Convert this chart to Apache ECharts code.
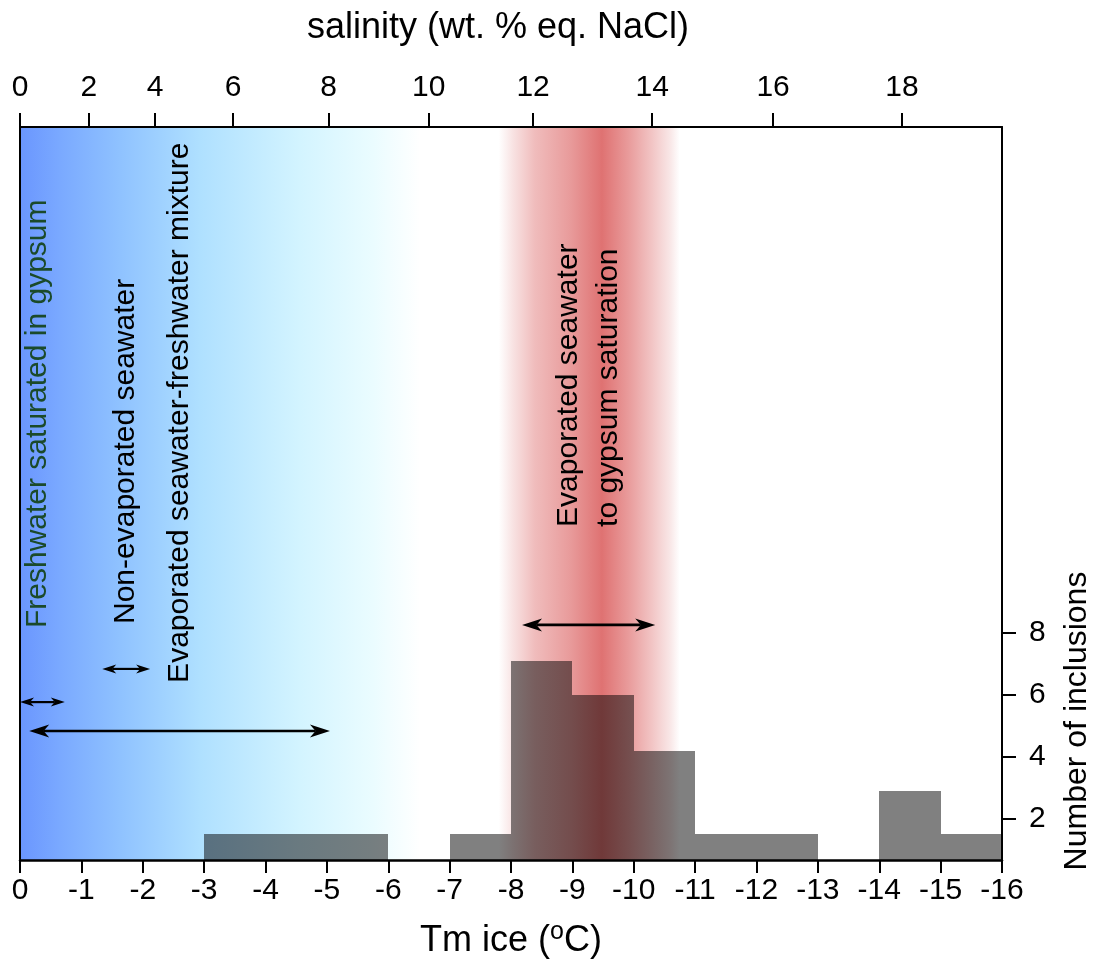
<!DOCTYPE html>
<html>
<head>
<meta charset="utf-8">
<script src="https://cdn.jsdelivr.net/npm/echarts@6/dist/echarts.min.js"></script>
<style>
  html, body { margin: 0; padding: 0; background: #ffffff; }
  #chart { width: 1099px; height: 965px; }
</style>
</head>
<body>
<div id="chart"></div>
<script>
// Fluid inclusions in gypsum: histogram of final ice-melting temperature (Tm ice)
// with the equivalent salinity scale along the top.

// Histogram bins (°C) and number of inclusions per bin
const binFrom = [-3, -4, -5, -7, -8, -9, -10, -11, -12, -14, -15];
const binTo   = [-4, -5, -6, -8, -9, -10, -11, -12, -13, -15, -16];
const inclusionCounts = [1.5, 1.5, 1.5, 1.5, 7.1, 6.0, 4.2, 1.5, 1.5, 2.9, 1.5];

// Salinity scale (wt. % eq. NaCl) and the Tm ice each label sits at
const salinityLabels = ['0', '2', '4', '6', '8', '10', '12', '14', '16', '18'];
const salinityAtTm   = [0, -1.12, -2.2, -3.47, -5.03, -6.66, -8.36, -10.3, -12.27, -14.37];

// Right-hand count axis
const countTicks = [2, 4, 6, 8];

// Fluid-type ranges of Tm ice (°C)
const rangeNames = [
  'Freshwater saturated in gypsum',
  'Non-evaporated seawater',
  'Evaporated seawater-freshwater mixture',
  'Evaporated seawater\nto gypsum saturation'
];
const rangeFrom = [0, -1.34, -0.15, -8.18];
const rangeTo   = [-0.73, -2.12, -5.05, -10.35];

// Shaded fields: freshwater-seawater field and gypsum-saturation band
const freshField = [0, -6.52];
const gypsumBand = [-7.8, -10.75];

// ---- styling and layout ----
const FONT = "'Liberation Sans', Arial, Helvetica, sans-serif";
const TM_LEFT = 0, TM_RIGHT = -16;
const Y_MIN = 0.677, Y_MAX = 24.32;
const arrowLevel = [5.77, 6.84, 4.84, 8.26];
const labelAnchor = [[-0.29, 8.16], [-1.73, 8.29], [-2.6, 6.39], [-9.27, 11.42]];
const labelColor = ['#1b4a2a', '#000000', '#000000', '#000000'];

const freshShade = [
  [0, '#6a96fe'], [0.1, '#7aa9ff'], [0.25, '#8fc2ff'], [0.45, '#afe0ff'],
  [0.7, '#d3f4ff'], [0.88, '#eafcff'], [1, '#ffffff']
];
const gypsumShade = [
  [0, '#ffffff'], [0.08, '#f8e2e2'], [0.2, '#f0bcbc'], [0.4, '#e89a9a'], [0.57, '#df7272'],
  [0.72, '#e99c9c'], [0.85, '#f2c6c6'], [0.95, '#f9e8e8'], [1, '#ffffff']
];
const BAR_GREY = 128;

function gradientOf(stops) {
  return new echarts.graphic.LinearGradient(0, 0, 1, 0,
    stops.map(s => ({ offset: s[0], color: s[1] })));
}

// grey bars look as if multiplied onto the shading beneath them
function multiplied(hex) {
  const n = parseInt(hex.slice(1), 16);
  const k = BAR_GREY / 255;
  const r = Math.round(((n >> 16) & 255) * k);
  const g = Math.round(((n >> 8) & 255) * k);
  const b = Math.round((n & 255) * k);
  return 'rgb(' + r + ',' + g + ',' + b + ')';
}
function fieldStops(field, shade) {
  return shade.map(s => {
    const tm = field[0] + s[0] * (field[1] - field[0]);
    return { offset: (tm - TM_LEFT) / (TM_RIGHT - TM_LEFT), color: multiplied(s[1]) };
  });
}
const barStops = fieldStops(freshField, freshShade)
  .concat(fieldStops(gypsumBand, gypsumShade))
  .concat([{ offset: 1, color: multiplied('#ffffff') }]);

const chart = echarts.init(document.getElementById('chart'), null, { renderer: 'canvas' });

const barData = binFrom.map((f, i) => [f, binTo[i], inclusionCounts[i]]);
const arrowData = rangeFrom.map((f, i) => [f, rangeTo[i], arrowLevel[i]]);
const labelData = rangeNames.map((n, i) => ({
  value: [labelAnchor[i][0], labelAnchor[i][1]],
  name: n,
  label: { color: labelColor[i] }
}));

function head(tip, dir, L, W) {
  const nx = -dir[1], ny = dir[0];
  const bx = tip[0] - dir[0] * L, by = tip[1] - dir[1] * L;
  const notch = [tip[0] - dir[0] * L * 0.72, tip[1] - dir[1] * L * 0.72];
  return {
    shape: { points: [tip, [bx + nx * W / 2, by + ny * W / 2], notch, [bx - nx * W / 2, by - ny * W / 2]] },
    notch: notch
  };
}

const axisLineStyle = { color: '#000', width: 2 };
let barFill = null;

chart.setOption({
  animation: false,
  backgroundColor: '#ffffff',
  grid: { left: 20, right: 97, top: 127, bottom: 105, containLabel: false },
  xAxis: [
    {
      type: 'value', position: 'bottom', min: TM_RIGHT, max: TM_LEFT, inverse: true, interval: 1, z: 10,
      axisLine: { show: true, onZero: false, lineStyle: { color: '#000', width: 2.5 } },
      axisTick: { show: true, length: 13, lineStyle: { color: '#000', width: 2 } },
      axisLabel: { show: true, margin: 16, fontFamily: FONT, fontSize: 30, color: '#000',
                   showMinLabel: true, showMaxLabel: true },
      splitLine: { show: false },
      name: '{t|Tm ice (}{s|o}{t|C)}',
      nameLocation: 'middle', nameGap: 60,
      nameTextStyle: {
        rich: {
          t: { fontFamily: FONT, fontSize: 36, lineHeight: 42, color: '#000' },
          s: { fontFamily: FONT, fontSize: 25, lineHeight: 25, color: '#000', verticalAlign: 'top' }
        }
      }
    },
    {
      type: 'value', position: 'top', min: TM_RIGHT, max: TM_LEFT, inverse: true, z: 10,
      axisLine: { show: true, onZero: false, lineStyle: axisLineStyle },
      axisTick: { show: true, length: 14, customValues: salinityAtTm, lineStyle: { color: '#000', width: 2 } },
      axisLabel: {
        show: true, margin: 24, fontFamily: FONT, fontSize: 30, color: '#000',
        customValues: salinityAtTm,
        formatter: (v) => {
          const i = salinityAtTm.findIndex(t => Math.abs(t - v) < 1e-6);
          return i >= 0 ? salinityLabels[i] : '';
        }
      },
      splitLine: { show: false }
    }
  ],
  yAxis: [
    {
      type: 'value', position: 'right', min: Y_MIN, max: Y_MAX, z: 10,
      axisLine: { show: true, onZero: false, lineStyle: axisLineStyle },
      axisTick: { show: true, length: 14, customValues: countTicks, lineStyle: { color: '#000', width: 2 } },
      axisLabel: { show: true, margin: 27, fontFamily: FONT, fontSize: 30, color: '#000', customValues: countTicks },
      splitLine: { show: false }
    },
    {
      type: 'value', position: 'left', min: Y_MIN, max: Y_MAX, z: 10,
      axisLine: { show: true, onZero: false, lineStyle: axisLineStyle },
      axisTick: { show: false }, axisLabel: { show: false }, splitLine: { show: false }
    }
  ],
  graphic: [
    {
      type: 'text', x: 498, y: 28, silent: true,
      style: { text: 'salinity (wt. % eq. NaCl)', font: '36px ' + FONT, fill: '#000',
               align: 'center', verticalAlign: 'middle', textAlign: 'center', textVerticalAlign: 'middle' }
    },
    {
      type: 'text', x: 1077, y: 721, rotation: Math.PI / 2, silent: true,
      style: { text: 'Number of inclusions', font: '32px ' + FONT, fill: '#000',
               align: 'center', verticalAlign: 'middle', textAlign: 'center', textVerticalAlign: 'middle' }
    }
  ],
  series: [
    {
      // shaded compositional fields behind the histogram
      type: 'line', data: [], silent: true, xAxisIndex: 0, yAxisIndex: 0, z: 1,
      markArea: {
        silent: true, z: 1,
        data: [
          [
            { xAxis: freshField[0], yAxis: Y_MIN, itemStyle: { color: gradientOf(freshShade) } },
            { xAxis: freshField[1], yAxis: Y_MAX }
          ],
          [
            { xAxis: gypsumBand[0], yAxis: Y_MIN, itemStyle: { color: gradientOf(gypsumShade) } },
            { xAxis: gypsumBand[1], yAxis: Y_MAX }
          ]
        ],
        label: { show: false }
      }
    },
    {
      // histogram
      type: 'custom', name: 'Number of inclusions', silent: true, z: 2,
      xAxisIndex: 0, yAxisIndex: 0,
      data: barData,
      encode: { x: [0, 1], y: 2 },
      renderItem: (params, api) => {
        if (!barFill) {
          const gl = api.coord([TM_LEFT, Y_MIN])[0];
          const gr = api.coord([TM_RIGHT, Y_MIN])[0];
          barFill = new echarts.graphic.LinearGradient(gl, 0, gr, 0, barStops, true);
        }
        const a = api.coord([api.value(0), Y_MIN]);
        const b = api.coord([api.value(1), api.value(2)]);
        const x0 = Math.round(Math.min(a[0], b[0]));
        const x1 = Math.round(Math.max(a[0], b[0]));
        const y0 = Math.round(b[1]);
        const y1 = Math.round(a[1]);
        return {
          type: 'rect',
          shape: { x: x0, y: y0, width: x1 - x0, height: y1 - y0 },
          style: { fill: barFill }
        };
      }
    },
    {
      // double-headed range arrows
      type: 'custom', silent: true, z: 5, xAxisIndex: 0, yAxisIndex: 0,
      data: arrowData,
      encode: { x: [0, 1], y: 2 },
      renderItem: (params, api) => {
        const p0 = api.coord([api.value(0), api.value(2)]);
        const p1 = api.coord([api.value(1), api.value(2)]);
        const len = Math.hypot(p1[0] - p0[0], p1[1] - p0[1]);
        const d = [(p1[0] - p0[0]) / len, (p1[1] - p0[1]) / len];
        const big = len > 80;
        const L = big ? 20 : 14, W = big ? 13 : 9;
        const h1 = head(p1, d, L, W);
        const h0 = head(p0, [-d[0], -d[1]], L, W);
        return {
          type: 'group',
          children: [
            { type: 'line', shape: { x1: h0.notch[0], y1: h0.notch[1], x2: h1.notch[0], y2: h1.notch[1] },
              style: { stroke: '#000', lineWidth: big ? 2.6 : 2.2 } },
            { type: 'polygon', shape: h0.shape, style: { fill: '#000' } },
            { type: 'polygon', shape: h1.shape, style: { fill: '#000' } }
          ]
        };
      }
    },
    {
      // fluid-type labels, written upward
      type: 'scatter', silent: true, z: 6, xAxisIndex: 0, yAxisIndex: 0,
      symbolSize: 0,
      itemStyle: { opacity: 1 },
      data: labelData,
      label: {
        show: true, position: 'inside', rotate: 90, opacity: 1,
        align: 'left', verticalAlign: 'middle',
        textBorderWidth: 0, textShadowBlur: 0,
        fontFamily: FONT, fontSize: 30, lineHeight: 40,
        formatter: (p) => p.name
      }
    }
  ]
});
</script>
</body>
</html>
